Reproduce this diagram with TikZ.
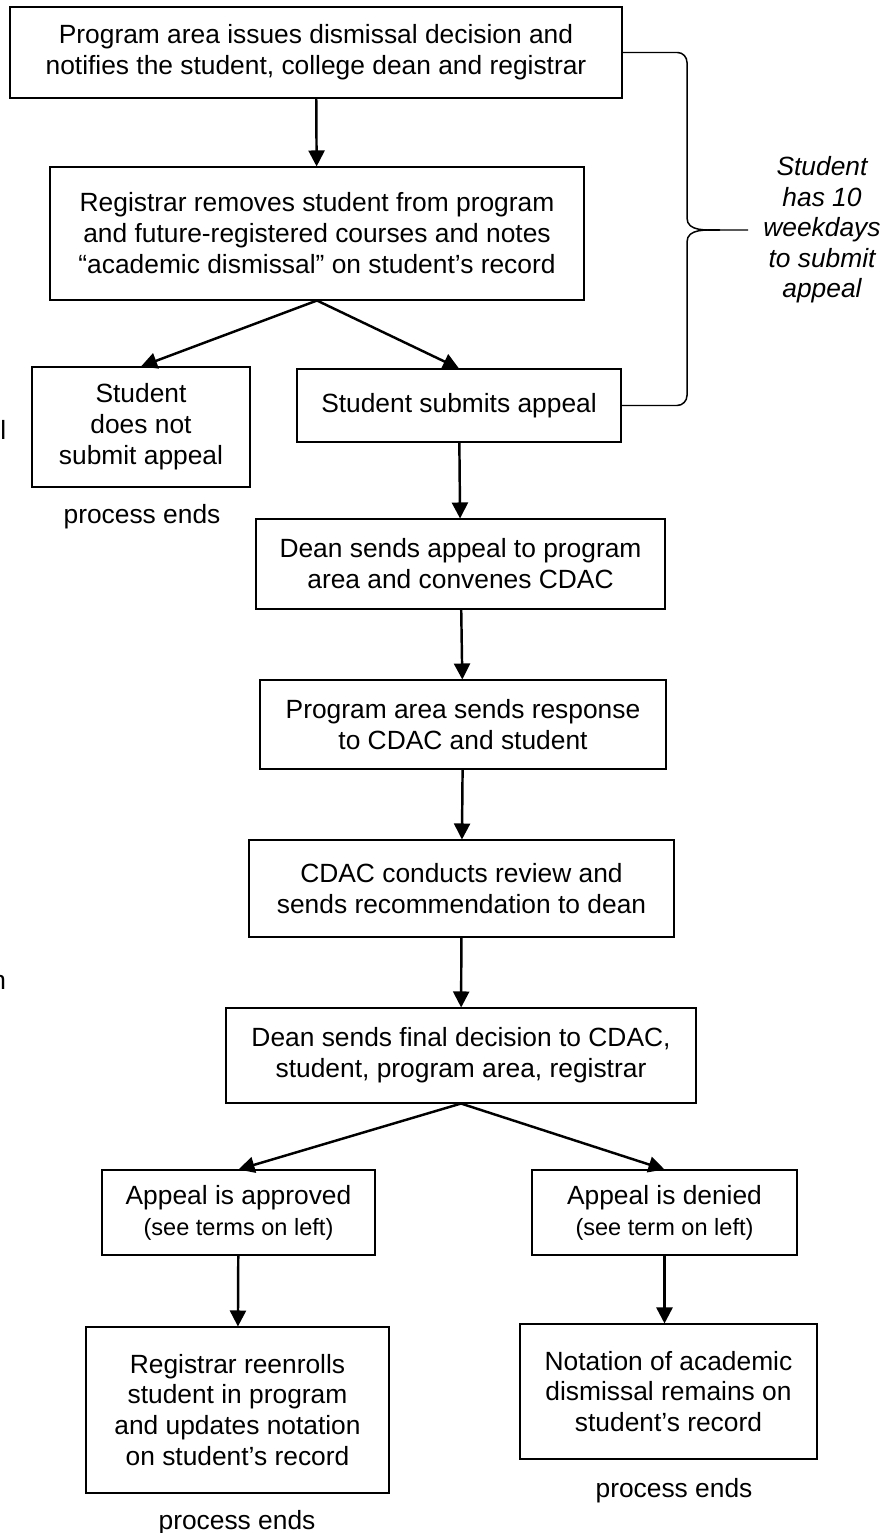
\documentclass[tikz,border=0pt]{standalone}
\usepackage{fontspec}
\setmainfont{Liberation Sans}
\usetikzlibrary{arrows.meta}

\begin{document}
\begin{tikzpicture}[font=\fontsize{15pt}{17.6pt}\selectfont]
	\tikzstyle{box}=[draw, line width=0.6pt, align=center, inner sep=0pt]
	\tikzstyle{flow}=[-{Triangle[length=0.32cm,width=0.32cm]}, line width=1.4pt]
	\tikzstyle{ends}=[align=center, inner sep=0pt]
	\tikzstyle{brace}=[line width=0.85pt]
	\useasboundingbox (0,0) rectangle (17.7,-30.66);
	\node (issue) [box, minimum width=12.24cm, minimum height=1.82cm] at (6.32,-1.05) {Program area issues dismissal decision and\\notifies the student, college dean and registrar};
	\node (remove) [box, minimum width=10.68cm, minimum height=2.66cm] at (6.34,-4.67) {Registrar removes student from program\\and future-registered courses and notes\\``academic dismissal'' on student's record};
	\node (noappeal) [box, minimum width=4.36cm, minimum height=2.4cm] at (2.82,-8.54) {Student\\does not\\submit appeal};
	\node (submit) [box, minimum width=6.48cm, minimum height=1.46cm] at (9.18,-8.11) {Student submits appeal};
	\node (convene) [box, minimum width=8.18cm, minimum height=1.8cm] at (9.21,-11.28) {Dean sends appeal to program\\area and convenes CDAC};
	\node (response) [box, minimum width=8.12cm, minimum height=1.78cm] at (9.26,-14.49) {Program area sends response\\to CDAC and student};
	\node (review) [box, minimum width=8.5cm, minimum height=1.94cm] at (9.23,-17.77) {CDAC conducts review and\\sends recommendation to dean};
	\node (final) [box, minimum width=9.4cm, minimum height=1.9cm] at (9.22,-21.11) {Dean sends final decision to CDAC,\\student, program area, registrar};
	\node (approved) [box, minimum width=5.46cm, minimum height=1.7cm] at (4.77,-24.25) {Appeal is approved\\\fontsize{13.4pt}{15.9pt}\selectfont (see terms on left)};
	\node (denied) [box, minimum width=5.3cm, minimum height=1.7cm] at (13.29,-24.25) {Appeal is denied\\\fontsize{13.4pt}{15.9pt}\selectfont (see term on left)};
	\node (reenroll) [box, minimum width=6.06cm, minimum height=3.32cm] at (4.75,-28.2) {Registrar reenrolls\\student in program\\and updates notation\\on student's record};
	\node (remains) [box, minimum width=5.94cm, minimum height=2.7cm] at (13.37,-27.83) {Notation of academic\\dismissal remains on\\student's record};
	\node (end1) [ends] at (2.84,-10.34) {process ends};
	\node (end2) [ends] at (4.74,-30.46) {process ends};
	\node (end3) [ends] at (13.48,-29.82) {process ends};
	\node (window) [ends, font=\fontsize{15pt}{17.4pt}\selectfont\itshape] at (16.44,-4.6) {Student\\has 10\\weekdays\\to submit\\appeal};
	\node (cutl) [ends, anchor=west] at (0,-8.6) {l};
	\node (cutn) [ends, anchor=west] at (-0.18,-19.64) {n};
	\coordinate (tip) at (14.96,-4.6);
	\draw[flow] (issue) -- (remove);
	\draw[flow] (remove.south) -- (noappeal.north);
	\draw[flow] (remove.south) -- (submit.north);
	\draw[flow] (submit) -- (convene);
	\draw[flow] (convene) -- (response);
	\draw[flow] (response) -- (review);
	\draw[flow] (review) -- (final);
	\draw[flow] (final.south) -- (approved.north);
	\draw[flow] (final.south) -- (denied.north);
	\draw[flow] (approved) -- (reenroll);
	\draw[flow] (denied.south) -- (denied.south |- remains.north);
	\draw[brace] (issue.east) -- ++(1.1,0) to[out=0,in=90] (13.74,-1.25) -- (13.74,-4.36) to[out=-90,in=180] (14.4,-4.6) -- (tip);
	\draw[brace] (14.4,-4.6) to[out=180,in=90] (13.74,-4.84) -- (13.74,-7.91) to[out=-90,in=0] (13.54,-8.11) -- (submit.east);
\end{tikzpicture}
\end{document}
